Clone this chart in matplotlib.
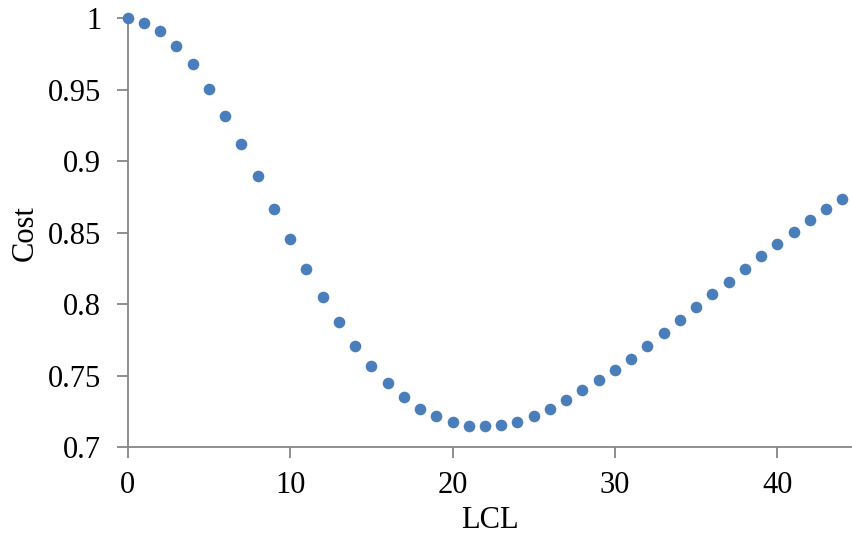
import matplotlib
matplotlib.use("Agg")
import matplotlib.pyplot as plt

# cost for each LCL value
lcl = list(range(45))
cost = [1.000, 0.997, 0.991, 0.981, 0.968, 0.951, 0.932, 0.912, 0.890, 0.867,
        0.846, 0.825, 0.805, 0.788, 0.771, 0.757, 0.745, 0.735, 0.727, 0.722,
        0.718, 0.715, 0.715, 0.716, 0.718, 0.722, 0.727, 0.733, 0.740, 0.747,
        0.754, 0.762, 0.771, 0.780, 0.789, 0.798, 0.807, 0.816, 0.825, 0.834,
        0.842, 0.851, 0.859, 0.867, 0.874]

x_ticks = [0, 10, 20, 30, 40]
y_ticks = [0.7, 0.75, 0.8, 0.85, 0.9, 0.95, 1.0]
y_labels = ["0.7", "0.75", "0.8", "0.85", "0.9", "0.95", "1"]

plt.rcParams['font.family'] = ['Liberation Serif', 'DejaVu Serif']

fig = plt.figure(figsize=(8.52, 5.44), dpi=100)
ax = fig.add_axes([0.1499, 0.1774, 0.8501, 0.7886])

ax.scatter(lcl, cost, s=70, color='#4a7ebb', linewidths=0, zorder=3, clip_on=False)

ax.set_xlim(0, 44.6)
ax.set_ylim(0.7, 1.0)
ax.set_xticks(x_ticks)
ax.set_yticks(y_ticks)
ax.set_yticklabels(y_labels)

for side in ['top', 'right']:
    ax.spines[side].set_visible(False)
for side in ['left', 'bottom']:
    ax.spines[side].set_color('#868686')
    ax.spines[side].set_linewidth(1.3)

ax.tick_params(axis='both', direction='out', length=8, width=1.3, color='#868686',
               labelsize=22, labelcolor='black')
ax.tick_params(axis='y', pad=11)
ax.tick_params(axis='x', pad=9)

ax.set_xlabel('LCL', fontsize=22, labelpad=4)
ax.set_ylabel('Cost', fontsize=22, labelpad=6)

fig.savefig('out.png', dpi=100)
